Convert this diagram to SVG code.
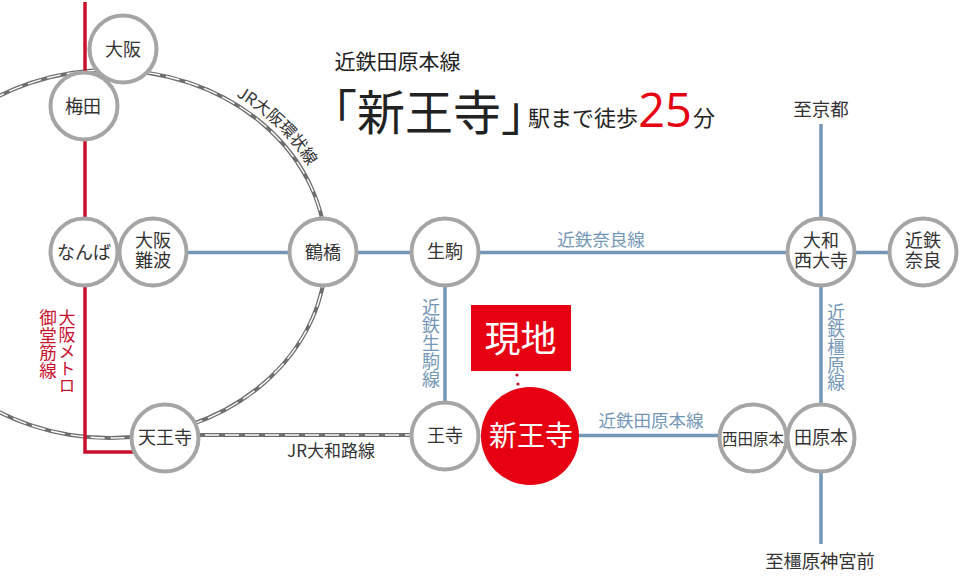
<svg xmlns="http://www.w3.org/2000/svg" width="960" height="580" viewBox="0 0 960 580">
<style>
text{font-family:"Noto Sans CJK JP","Noto Sans",sans-serif;fill:#333;text-anchor:middle;font-weight:400}
.c{fill:#fff;stroke:#a5a5a5;stroke-width:4}
.n{font-size:18px}
.blue{fill:none;stroke:#7497b8;stroke-width:3.5}
.red{fill:none;stroke:#c8102e;stroke-width:3.5}
.rb{fill:none;stroke:#6e6e6e;stroke-width:4}
.rw{fill:none;stroke:#fff;stroke-width:1.4;stroke-dasharray:14 6}
.v{writing-mode:vertical-rl;text-orientation:upright;text-anchor:start}
.s{font-size:17.500px}
.dark{fill:#222}
.kin{fill:#7497b8}
.met{fill:#c8102e}
</style>
<rect width="960" height="580" fill="#fff"/>
<g id="connectors">
<ellipse class="rb" cx="110" cy="254" rx="216" ry="184"/>
<ellipse class="rw" cx="110" cy="254" rx="216" ry="184"/>
<path class="rb" d="M165 435H445"/>
<path class="rw" d="M165 435H445"/>
<path class="red" d="M85 2V452H165"/>
<path class="blue" d="M153 252.500H923M445 252V436M821 124V544M530 435.500H753"/>
</g>
<g id="title">
<text class="dark" x="397.500" y="69" font-size="21">近鉄田原本線</text>
<text class="dark" x="429" y="130" font-size="48">「新王寺」</text>
<text class="dark" x="583" y="126" font-size="22">駅まで徒歩</text>
<text x="665" y="127" font-size="47" style="fill:#e60012;font-family:'Open Sans',sans-serif">25</text>
<text class="dark" x="704" y="126" font-size="22">分</text>
</g>
<g id="labels">
<path id="arc" d="M236 96A223 191 0 0 1 333 254" fill="none"/>
<text font-size="16.500" style="text-anchor:start"><textPath href="#arc">JR大阪環状線</textPath></text>
<text class="s kin" x="601" y="246">近鉄奈良線</text>
<text class="s kin" x="651" y="427">近鉄田原本線</text>
<text x="331" y="457" font-size="17">JR大和路線</text>
<text x="821" y="116" font-size="18.500">至京都</text>
<text x="820" y="568" font-size="18.300">至橿原神宮前</text>
<text class="v kin" x="431" y="298" font-size="18">近鉄生駒線</text>
<text class="v kin" x="836" y="303" font-size="17.700">近鉄橿原線</text>
<text class="v met" x="67" y="309" font-size="17">大阪メトロ</text>
<text class="v met" x="48" y="309" font-size="17.500">御堂筋線</text>
</g>
<g id="genchi">
<rect x="471" y="305" width="100" height="66" fill="#e60012"/>
<text x="520.500" y="352" font-size="36" style="fill:#fff">現地</text>
<circle cx="517" cy="375" r="1.600" fill="#c8102e"/>
<circle cx="518" cy="384" r="1.600" fill="#c8102e"/>
</g>
<g id="umeda"><circle class="c" cx="84" cy="106" r="33.500"/><text class="n" x="83" y="113">梅田</text></g>
<g id="osaka"><circle class="c" cx="123" cy="49" r="33.500"/><text class="n" x="123" y="56">大阪</text></g>
<g id="namba"><circle class="c" cx="84" cy="252" r="33.500"/><text class="n" x="84" y="259">なんば</text></g>
<g id="osaka-namba"><circle class="c" cx="153" cy="252" r="33.500"/><text class="n"><tspan x="153" y="247">大阪</tspan><tspan x="153" y="267">難波</tspan></text></g>
<g id="tsuruhashi"><circle class="c" cx="323" cy="252" r="33.500"/><text class="n" x="323" y="259">鶴橋</text></g>
<g id="ikoma"><circle class="c" cx="445" cy="252" r="33.500"/><text class="n" x="445" y="258">生駒</text></g>
<g id="yamato-saidaiji"><circle class="c" cx="821" cy="252" r="33.500"/><text class="n"><tspan x="821" y="247">大和</tspan><tspan x="821" y="267">西大寺</tspan></text></g>
<g id="kintetsu-nara"><circle class="c" cx="923" cy="252" r="33.500"/><text class="n"><tspan x="923" y="247">近鉄</tspan><tspan x="923" y="267">奈良</tspan></text></g>
<g id="tennoji"><circle class="c" cx="165" cy="438" r="33.500"/><text class="n" x="165" y="444">天王寺</text></g>
<g id="oji"><circle class="c" cx="445" cy="436" r="33.500"/><text class="n" x="445" y="442">王寺</text></g>
<g id="shin-oji"><circle cx="530" cy="436" r="49" fill="#e60012"/><text x="531" y="446" font-size="28" style="fill:#fff">新王寺</text></g>
<g id="nishi-tawaramoto"><circle class="c" cx="753" cy="438" r="33.500"/><text x="753" y="445" font-size="15.500">西田原本</text></g>
<g id="tawaramoto"><circle class="c" cx="821" cy="438" r="33.500"/><text class="n" x="821" y="444">田原本</text></g>
</svg>
